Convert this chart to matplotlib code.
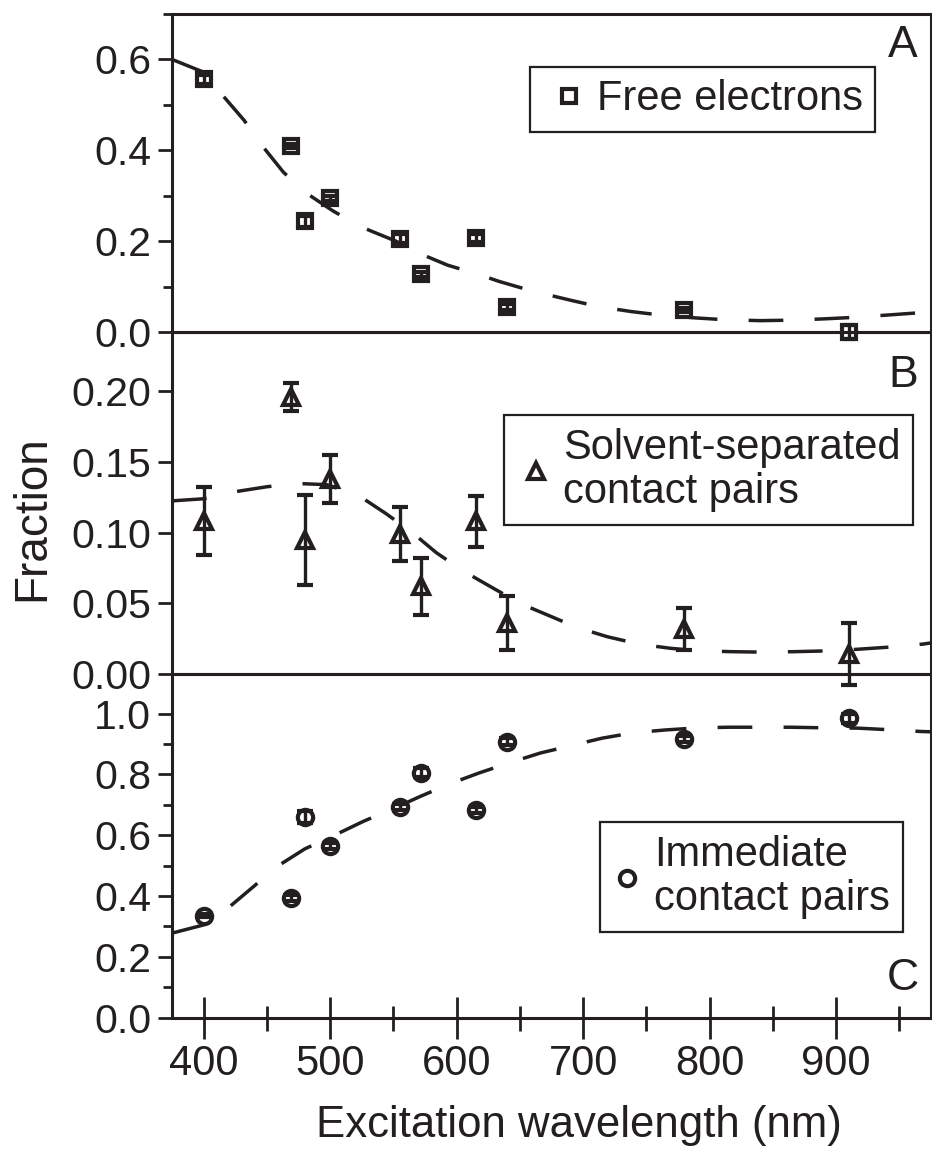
import numpy as np
import matplotlib
matplotlib.use("Agg")
import matplotlib.pyplot as plt
from matplotlib.lines import Line2D
from matplotlib.ticker import FixedLocator, FormatStrFormatter

plt.rcParams['font.family'] = ['Liberation Sans', 'DejaVu Sans']

# measured points (excitation wavelength, nm)
wl = [400, 469, 480, 500, 555, 572, 615, 640, 780, 910]

free_e = [0.556, 0.409, 0.244, 0.294, 0.205, 0.127, 0.207, 0.055, 0.048, 0.000]
free_e_err = [0.010, 0.005, 0.012, 0.006, 0.010, 0.006, 0.008, 0.006, 0.005, 0.015]

ssp = [0.108, 0.196, 0.095, 0.138, 0.099, 0.062, 0.108, 0.036, 0.032, 0.014]
ssp_err = [0.024, 0.010, 0.032, 0.017, 0.019, 0.020, 0.018, 0.019, 0.015, 0.022]

icp = [0.336, 0.395, 0.661, 0.566, 0.694, 0.806, 0.683, 0.908, 0.917, 0.985]
icp_err = [0.005, 0.010, 0.020, 0.010, 0.010, 0.015, 0.010, 0.010, 0.010, 0.015]

# dashed fit curves
fitA_wl = [375, 400, 415, 432, 446, 463, 480, 502, 523, 552, 568, 593, 617, 634,
           660, 690, 712, 738, 762, 789, 812, 840, 864, 891, 913, 939, 964, 975]
fitA = [0.600, 0.572, 0.521, 0.466, 0.411, 0.352, 0.308, 0.267, 0.233, 0.200, 0.176,
        0.147, 0.127, 0.111, 0.090, 0.070, 0.056, 0.045, 0.037, 0.031, 0.027, 0.025,
        0.026, 0.029, 0.032, 0.037, 0.042, 0.043]

fitB_wl = [375, 400, 425, 450, 474, 497, 522, 544, 565, 584, 605, 627, 650, 672,
           695, 719, 745, 769, 790, 817, 840, 867, 890, 917, 945, 969, 975]
fitB = [0.1225, 0.124, 0.129, 0.1325, 0.1348, 0.134, 0.1266, 0.1136, 0.100, 0.0858,
        0.073, 0.0617, 0.050, 0.0417, 0.033, 0.0264, 0.021, 0.0182, 0.0165, 0.0158,
        0.0155, 0.0158, 0.0163, 0.0175, 0.0192, 0.0212, 0.022]

fitC_wl = [375, 400, 420, 440, 458, 480, 504, 526, 553, 571, 594, 618, 641, 666,
           690, 715, 740, 765, 791, 815, 841, 864, 891, 917, 941, 967, 975]
fitC = [0.278, 0.305, 0.363, 0.433, 0.497, 0.555, 0.601, 0.645, 0.693, 0.727, 0.768,
        0.805, 0.837, 0.870, 0.894, 0.919, 0.937, 0.946, 0.953, 0.955, 0.955, 0.955,
        0.953, 0.952, 0.947, 0.941, 0.940]

ink = '#231f20'
W, H = 932, 1149
fig = plt.figure(figsize=(W / 100, H / 100), dpi=100)

left = 172 / W
width = (931 - 172) / W
axA = fig.add_axes([left, (H - 332) / H, width, 318 / H])
axB = fig.add_axes([left, (H - 674) / H, width, 342 / H])
axC = fig.add_axes([left, (H - 1017.7) / H, width, 343.7 / H])

panels = [
    (axA, free_e, free_e_err, fitA_wl, fitA, 's', 10, 4),
    (axB, ssp, ssp_err, fitB_wl, fitB, '^', 12, 5.5),
    (axC, icp, icp_err, fitC_wl, fitC, 'o', 11, 6),
]

for ax, y, yerr, fx, fy, mk, ms, cap in panels:
    ax.patch.set_visible(False)
    ax.plot(fx, fy, color=ink, lw=2.5, dashes=(10, 9), clip_on=False)
    cont = ax.errorbar(wl, y, yerr=yerr, fmt=mk, ms=ms, mfc='none', mec=ink, mew=3.0,
                       ecolor=ink, elinewidth=2.4, capsize=cap, capthick=2.4, zorder=5)
    cont[0].set_clip_on(False)
    for c in cont[1]:
        c.set_clip_on(False)
    for c in cont[2]:
        c.set_clip_on(False)
    ax.set_xlim(375, 975)
    for s in ax.spines.values():
        s.set_linewidth(2.2)
        s.set_color(ink)
    ax.tick_params(axis='y', which='both', direction='out', color=ink, width=2.0,
                   labelsize=29.5, labelcolor=ink, pad=5)
    ax.tick_params(axis='y', which='major', length=10)
    ax.tick_params(axis='y', which='minor', length=6.5)

axA.set_ylim(0, 0.70)
axA.yaxis.set_major_locator(FixedLocator([0.0, 0.2, 0.4, 0.6]))
axA.yaxis.set_minor_locator(FixedLocator([0.1, 0.3, 0.5, 0.7]))
axA.yaxis.set_major_formatter(FormatStrFormatter('%.1f'))

axB.set_ylim(0, 0.242)
axB.yaxis.set_major_locator(FixedLocator([0.0, 0.05, 0.10, 0.15, 0.20]))
axB.yaxis.set_major_formatter(FormatStrFormatter('%.2f'))

axC.set_ylim(0, 1.13)
axC.yaxis.set_major_locator(FixedLocator([0.0, 0.2, 0.4, 0.6, 0.8, 1.0]))
axC.yaxis.set_minor_locator(FixedLocator([0.1, 0.3, 0.5, 0.7, 0.9]))
axC.yaxis.set_major_formatter(FormatStrFormatter('%.1f'))

for ax in (axA, axB):
    ax.tick_params(axis='x', which='both', bottom=False, labelbottom=False)

axC.xaxis.set_major_locator(FixedLocator([400, 500, 600, 700, 800, 900]))
axC.xaxis.set_minor_locator(FixedLocator([450, 550, 650, 750, 850, 950]))
axC.tick_params(axis='x', which='both', direction='inout', color=ink, width=2.0,
                labelsize=30, labelcolor=ink)
axC.tick_params(axis='x', which='major', length=30, pad=4)
axC.tick_params(axis='x', which='minor', length=18)
axC.set_xlabel('Excitation wavelength (nm)', fontsize=31.5, color=ink)
axC.xaxis.label.set_va('center')
axC.xaxis.set_label_coords((579 - 172) / 759, -(1125 - 1017.7) / 343.7)

fig.text(32.5 / W, 1 - 518.5 / H, 'Fraction', rotation=90, fontsize=33, color=ink,
         ha='center', va='center')

# panel letters
axA.text(0.9816, 0.8648, 'A', transform=axA.transAxes, ha='right', va='baseline',
         fontsize=32, color=ink)
axB.text(0.9825, 0.838, 'B', transform=axB.transAxes, ha='right', va='baseline',
         fontsize=32, color=ink)
axC.text(0.984, 0.0806, 'C', transform=axC.transAxes, ha='right', va='baseline',
         fontsize=32, color=ink)

# legends
leg_specs = [
    (axA, 's', 10, 'Free electrons', (530, 66.7), 1.25, 0.05),
    (axB, '^', 12, 'Solvent-separated\ncontact pairs', (504.3, 415), 0.9, 0.22),
    (axC, 'o', 11, 'Immediate\ncontact pairs', (600, 822.3), 0.7, 0.3),
]
for ax, mk, ms, lab, (lx, ly), hl, htp in leg_specs:
    h = Line2D([], [], ls='none', marker=mk, ms=ms, mfc='none', mec=ink, mew=3.0)
    leg = ax.legend([h], [lab], loc='upper left', bbox_to_anchor=(lx / W, 1 - ly / H),
                    bbox_transform=fig.transFigure, borderaxespad=0, borderpad=0.3,
                    handlelength=hl, handletextpad=htp, fontsize=30, fancybox=False,
                    framealpha=1, edgecolor=ink, labelspacing=0.2)
    leg.get_frame().set_linewidth(1.6)
    for t in leg.get_texts():
        t.set_color(ink)
        t.set_linespacing(1.15)

fig.savefig('out.png', dpi=100)
